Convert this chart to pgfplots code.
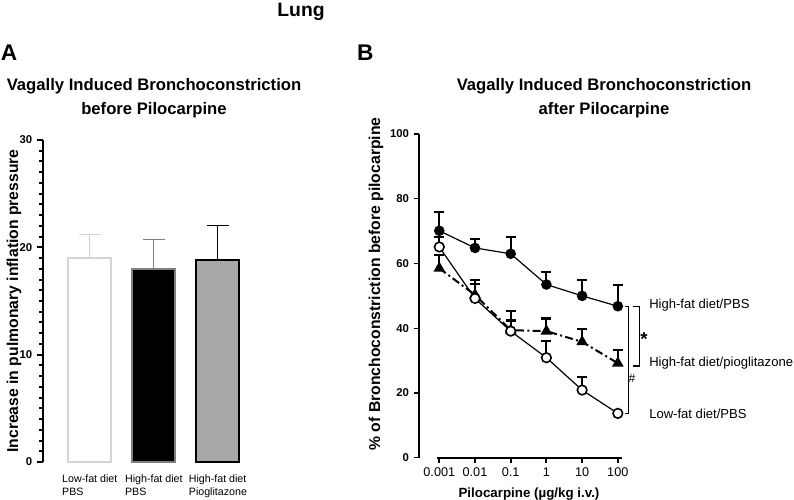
\documentclass[border=0pt]{standalone}
\usepackage{pgfplots}
\pgfplotsset{compat=1.18}
\usepackage{fontspec}
\setmainfont{Liberation Sans}

\definecolor{lgray}{RGB}{212,212,212}
\definecolor{mgray}{RGB}{128,128,128}
\definecolor{bgray}{RGB}{168,168,168}
\newcommand{\fs}[2]{\fontsize{#1}{#2}\selectfont}

\begin{document}
\begin{tikzpicture}
\useasboundingbox (0,0) rectangle (595.5pt,375pt);

% headings
\node at (225.75pt,366pt) {\bfseries\fs{14.5}{16}Lung};
\node at (6.75pt,335.6pt) {\bfseries\fs{17}{18}A};
\node at (274pt,335.6pt) {\bfseries\fs{17}{18}B};
\node at (115.5pt,310pt) {\bfseries\fs{12.5}{14}Vagally Induced Bronchoconstriction};
\node at (115.5pt,292.5pt) {\bfseries\fs{12.5}{14}before Pilocarpine};
\node at (453pt,310pt) {\bfseries\fs{12.5}{14}Vagally Induced Bronchoconstriction};
\node at (453pt,292.5pt) {\bfseries\fs{12.5}{14}after Pilocarpine};
\node[rotate=90] at (10.5pt,149.25pt) {\bfseries\fs{11.8}{13}Increase in pulmonary inflation pressure};
\node[rotate=90] at (282pt,162pt) {\bfseries\fs{11.8}{13}\% of Bronchoconstriction before pilocarpine};
\node[anchor=base] at (396.75pt,2.2pt) {\bfseries\fs{10}{12}Pilocarpine (µg/kg i.v.)};

% panel A
\begin{axis}[
at={(32.25pt,28.5pt)}, anchor=south west,
scale only axis, width=155.25pt, height=241.5pt,
xmin=0.27, xmax=3.5, ymin=0, ymax=30,
axis lines*=left,
x axis line style={draw=none},
y axis line style={line width=1.5pt},
xtick={1,2,3},
xticklabels={{Low-fat diet\\PBS},{High-fat diet\\PBS},{High-fat diet\\Pioglitazone}},
xticklabel style={align=left, font=\fs{8}{10}, yshift=-1.5pt},
x tick style={draw=none},
ytick={0,10,20,30}, minor y tick num=9,
tick align=outside,
y tick style={line width=1.5pt, black},
minor y tick style={line width=1.5pt, black},
major tick length=4.5pt, minor tick length=3pt,
/pgf/number format/assume math mode=true,
yticklabel style={font=\bfseries\fs{8.5}{10}},
ybar, bar width=0.67, bar shift=0pt,
clip=false,
]
\addplot[draw=lgray, fill=white, line width=1.5pt,
  error bars/.cd, y dir=plus, y explicit,
  error bar style={lgray, line width=0.8pt},
  error mark options={rotate=90, lgray, line width=0.8pt, mark size=8.25pt}]
  coordinates {(1,19.0) +- (0,2.2)};
\addplot[draw=mgray, fill=black, line width=1.5pt,
  error bars/.cd, y dir=plus, y explicit,
  error bar style={mgray, line width=0.8pt},
  error mark options={rotate=90, mgray, line width=0.8pt, mark size=8.25pt}]
  coordinates {(2,18.0) +- (0,2.75)};
\addplot[draw=black, fill=bgray, line width=1.5pt,
  error bars/.cd, y dir=plus, y explicit,
  error bar style={black, line width=0.8pt},
  error mark options={rotate=90, black, line width=0.8pt, mark size=8.25pt}]
  coordinates {(3,18.8) +- (0,3.2)};
\end{axis}

% panel B
\begin{axis}[
at={(314.25pt,31.7pt)}, anchor=south west,
scale only axis, width=152.25pt, height=242.8pt,
xmode=log, xmin=2.7e-4, xmax=131, ymin=0, ymax=100,
axis lines*=left,
x axis line style={draw=none},
y axis line style={line width=1pt},
xtick={0.001,0.01,0.1,1,10,100},
xticklabels={0.001,0.01,0.1,1,10,100},
xminorticks=false,
ytick={0,20,40,60,80,100},
tick align=outside,
x tick style={line width=1.5pt, black},
y tick style={line width=1pt, black},
major tick length=4pt,
/pgf/number format/assume math mode=true,
yticklabel style={font=\bfseries\fs{8.5}{10}},
xticklabel style={font=\fs{9.5}{11}},
clip=false,
]
\draw[line width=1.8pt] (axis cs:8.6e-4,0) -- (axis cs:131,0);

% High-fat diet/pioglitazone
\addplot[black, line width=1.5pt, dash pattern=on 6pt off 2.5pt on 1.5pt off 2.5pt,
  mark=triangle*, mark size=3.6pt, mark options={solid},
  error bars/.cd, y dir=plus, y explicit,
  error bar style={line width=1.6pt, solid},
  error mark options={rotate=90, line width=1.6pt, mark size=3.75pt}]
  coordinates {
  (0.001,58.5) +- (0,4.0)
  (0.01,50.3) +- (0,4.6)
  (0.1,39.4) +- (0,3.0)
  (1,39.1) +- (0,3.9)
  (10,35.8) +- (0,4.0)
  (100,29.2) +- (0,4.0)
  };
% High-fat diet/PBS
\addplot[black, line width=0.9pt,
  mark=*, mark size=3.5pt,
  error bars/.cd, y dir=plus, y explicit,
  error bar style={line width=1.6pt},
  error mark options={rotate=90, line width=1.6pt, mark size=3.75pt}]
  coordinates {
  (0.001,70.1) +- (0,5.7)
  (0.01,64.8) +- (0,2.8)
  (0.1,63.0) +- (0,5.2)
  (1,53.5) +- (0,3.8)
  (10,50.0) +- (0,4.8)
  (100,46.8) +- (0,6.5)
  };
% Low-fat diet/PBS
\addplot[black, line width=0.9pt,
  mark=*, mark size=3.6pt, mark options={fill=white, line width=1.2pt},
  error bars/.cd, y dir=plus, y explicit,
  error bar style={line width=1.6pt},
  error mark options={rotate=90, line width=1.6pt, mark size=3.75pt}]
  coordinates {
  (0.001,65.1) +- (0,3.0)
  (0.01,49.2) +- (0,4.5)
  (0.1,39.1) +- (0,6.2)
  (1,30.9) +- (0,5.2)
  (10,20.9) +- (0,4.1)
  (100,13.7) +- (0,0)
  };

% significance brackets
\draw[line width=0.7pt] (axis cs:159,46.8) -- (axis cs:194,46.8) -- (axis cs:194,13.7) -- (axis cs:159,13.7);
\draw[line width=1pt] (axis cs:267,46.8) -- (axis cs:398,46.8) -- (axis cs:398,28.3) -- (axis cs:267,28.3);
\node[inner sep=0pt] at (axis cs:250,24.5) {\fs{9}{10}\#};
\node[inner sep=0pt] at (axis cs:542,36.5) {\bfseries\fs{14}{14}*};
\node[anchor=west, inner sep=0pt] at (axis cs:748,47.2) {\fs{9.8}{12}High-fat diet/PBS};
\node[anchor=west, inner sep=0pt] at (axis cs:748,29.2) {\fs{9.8}{12}High-fat diet/pioglitazone};
\node[anchor=west, inner sep=0pt] at (axis cs:748,13.7) {\fs{9.8}{12}Low-fat diet/PBS};
\end{axis}
\end{tikzpicture}
\end{document}
